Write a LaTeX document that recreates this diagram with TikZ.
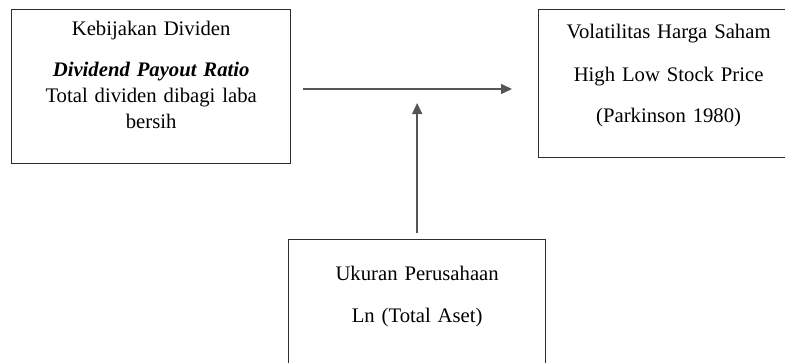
\documentclass[tikz,border=0pt]{standalone}
\usepackage{fontspec}
\setmainfont{Liberation Serif}
\usetikzlibrary{arrows.meta}
\definecolor{frame}{RGB}{45, 45, 45}
\definecolor{shaft}{RGB}{85, 85, 85}

\begin{document}
\begin{tikzpicture}[x=1pt, y=-1pt,
    varbox/.style={draw=frame, line width=1.3pt, rectangle, anchor=north west,
      align=center, inner xsep=0pt, inner ysep=0pt,
      font=\fontsize{20.7}{26}\selectfont},
    arrow/.style={draw=shaft, line width=1.5pt,
      -{Triangle[length=11pt, width=10pt]}}]

  \useasboundingbox (0, 0) rectangle (785, 362);

  \node[varbox, text width=279pt, text height=26pt, text depth=128pt]
    (kebijakan) at (11, 9)
    {Kebijakan Dividen\\[15pt]
     \textbf{\textit{Dividend Payout Ratio}}\\
     Total dividen dibagi laba\\
     bersih};

  \node[varbox, text width=260pt, text height=29pt, text depth=119pt]
    (volatilitas) at (538, 9)
    {Volatilitas Harga Saham\\[16.5pt]
     High Low Stock Price\\[15pt]
     (Parkinson 1980)};

  \node[varbox, text width=257pt, text height=41pt, text depth=99pt]
    (ukuran) at (288, 239)
    {Ukuran Perusahaan\\[16pt]
     Ln (Total Aset)};

  \coordinate (pengaruh) at (415, 89);

  \draw[arrow, shorten <=12pt, shorten >=26pt]
    (kebijakan.east |- pengaruh) -- (volatilitas.west |- pengaruh);
  \draw[arrow, shorten <=6pt, shorten >=14pt]
    (ukuran.north) -- (ukuran.north |- pengaruh);

\end{tikzpicture}
\end{document}
